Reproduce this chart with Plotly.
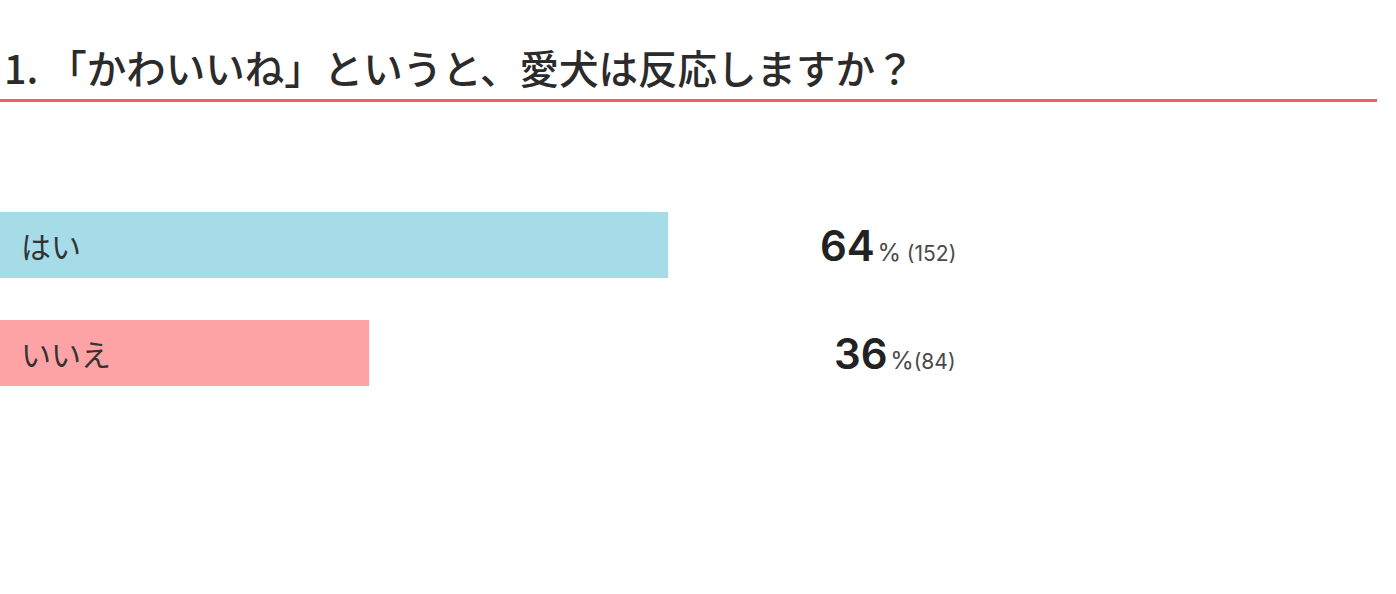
import plotly.graph_objects as go

title_text = "1. 「かわいいね」というと、愛犬は反応しますか？"
categories = ["はい", "いいえ"]
percents = [64, 36]
counts = [152, 84]
colors = ["#a6dbe8", "#fda3a6"]

W, H = 1396, 594

fig = go.Figure()
fig.add_trace(go.Bar(
    y=categories, x=percents, orientation="h",
    marker=dict(color=colors, line=dict(width=0)),
    width=0.611, hoverinfo="skip", showlegend=False,
))

annotations = []
for c, p, n in zip(categories, percents, counts):
    annotations.append(dict(
        xref="paper", yref="y", x=19 / W, y=c, xanchor="left", yanchor="middle",
        text=c, showarrow=False,
        font=dict(family="Noto Sans CJK JP", size=30, color="#333333"),
    ))
    sep = "&nbsp;" if n >= 100 else ""
    annotations.append(dict(
        xref="paper", yref="y", x=958 / W, y=c, xanchor="right", yanchor="middle",
        text=(f"<span style='font-size:42px;font-weight:600;color:#222222'>{p}</span>"
              f"<span style='font-size:9px'>&nbsp;</span>"
              f"<span style='font-size:24px'>%</span>{sep}"
              f"<span style='font-size:21px'>({n})</span>"),
        showarrow=False,
        font=dict(family="Inter", size=21, color="#4a4a4a"),
    ))

annotations.append(dict(
    xref="paper", yref="paper", x=2 / W, y=1 - 67 / H, xanchor="left", yanchor="middle",
    text=title_text, showarrow=False,
    font=dict(family="Noto Sans CJK JP", size=39.5, color="#2b2b2b", weight=500),
))

fig.update_layout(
    width=W, height=H,
    margin=dict(l=0, r=0, t=0, b=0),
    paper_bgcolor="white", plot_bgcolor="white",
    xaxis=dict(range=[1.44, 132.15], visible=False, fixedrange=True),
    yaxis=dict(type="category", range=[3.231, -2.269], visible=False, fixedrange=True),
    annotations=annotations,
    shapes=[dict(type="line", xref="paper", yref="paper", x0=0, x1=1377 / W,
                 y0=1 - 100.5 / H, y1=1 - 100.5 / H,
                 line=dict(color="#ee5e66", width=3))],
)

fig.write_html("out.html", config={"displayModeBar": False},
               post_script="document.body.style.margin='0';document.body.style.overflow='hidden';")
